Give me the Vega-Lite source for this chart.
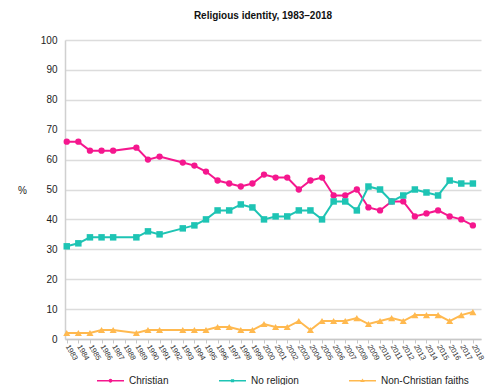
{
  "$schema": "https://vega.github.io/schema/vega-lite/v6.json",
  "width": 416,
  "height": 299,
  "autosize": "none",
  "padding": {"left": 65, "top": 40, "right": 11, "bottom": 46},
  "title": {
    "text": "Religious identity, 1983–2018",
    "font": "Liberation Sans",
    "fontSize": 10,
    "fontWeight": "bold",
    "color": "#111",
    "anchor": "middle",
    "dx": -10,
    "offset": 14
  },
  "config": {
    "view": {"stroke": null},
    "font": "Liberation Sans"
  },
  "data": {
    "values": [
      {"year": 1983, "Christian": 66, "No religion": 31, "Non-Christian faiths": 2},
      {"year": 1984, "Christian": 66, "No religion": 32, "Non-Christian faiths": 2},
      {"year": 1985, "Christian": 63, "No religion": 34, "Non-Christian faiths": 2},
      {"year": 1986, "Christian": 63, "No religion": 34, "Non-Christian faiths": 3},
      {"year": 1987, "Christian": 63, "No religion": 34, "Non-Christian faiths": 3},
      {"year": 1989, "Christian": 64, "No religion": 34, "Non-Christian faiths": 2},
      {"year": 1990, "Christian": 60, "No religion": 36, "Non-Christian faiths": 3},
      {"year": 1991, "Christian": 61, "No religion": 35, "Non-Christian faiths": 3},
      {"year": 1993, "Christian": 59, "No religion": 37, "Non-Christian faiths": 3},
      {"year": 1994, "Christian": 58, "No religion": 38, "Non-Christian faiths": 3},
      {"year": 1995, "Christian": 56, "No religion": 40, "Non-Christian faiths": 3},
      {"year": 1996, "Christian": 53, "No religion": 43, "Non-Christian faiths": 4},
      {"year": 1997, "Christian": 52, "No religion": 43, "Non-Christian faiths": 4},
      {"year": 1998, "Christian": 51, "No religion": 45, "Non-Christian faiths": 3},
      {"year": 1999, "Christian": 52, "No religion": 44, "Non-Christian faiths": 3},
      {"year": 2000, "Christian": 55, "No religion": 40, "Non-Christian faiths": 5},
      {"year": 2001, "Christian": 54, "No religion": 41, "Non-Christian faiths": 4},
      {"year": 2002, "Christian": 54, "No religion": 41, "Non-Christian faiths": 4},
      {"year": 2003, "Christian": 50, "No religion": 43, "Non-Christian faiths": 6},
      {"year": 2004, "Christian": 53, "No religion": 43, "Non-Christian faiths": 3},
      {"year": 2005, "Christian": 54, "No religion": 40, "Non-Christian faiths": 6},
      {"year": 2006, "Christian": 48, "No religion": 46, "Non-Christian faiths": 6},
      {"year": 2007, "Christian": 48, "No religion": 46, "Non-Christian faiths": 6},
      {"year": 2008, "Christian": 50, "No religion": 43, "Non-Christian faiths": 7},
      {"year": 2009, "Christian": 44, "No religion": 51, "Non-Christian faiths": 5},
      {"year": 2010, "Christian": 43, "No religion": 50, "Non-Christian faiths": 6},
      {"year": 2011, "Christian": 46, "No religion": 46, "Non-Christian faiths": 7},
      {"year": 2012, "Christian": 46, "No religion": 48, "Non-Christian faiths": 6},
      {"year": 2013, "Christian": 41, "No religion": 50, "Non-Christian faiths": 8},
      {"year": 2014, "Christian": 42, "No religion": 49, "Non-Christian faiths": 8},
      {"year": 2015, "Christian": 43, "No religion": 48, "Non-Christian faiths": 8},
      {"year": 2016, "Christian": 41, "No religion": 53, "Non-Christian faiths": 6},
      {"year": 2017, "Christian": 40, "No religion": 52, "Non-Christian faiths": 8},
      {"year": 2018, "Christian": 38, "No religion": 52, "Non-Christian faiths": 9}
    ]
  },
  "transform": [
    {"fold": ["Christian", "No religion", "Non-Christian faiths"], "as": ["group", "share"]}
  ],
  "encoding": {
    "x": {
      "field": "year",
      "type": "quantitative",
      "scale": {"domain": [1982.85, 2018.7], "nice": false, "zero": false},
      "axis": {
        "title": null,
        "values": [1983,1984,1985,1986,1987,1988,1989,1990,1991,1992,1993,1994,1995,1996,1997,1998,1999,2000,2001,2002,2003,2004,2005,2006,2007,2008,2009,2010,2011,2012,2013,2014,2015,2016,2017,2018],
        "format": "d",
        "grid": false,
        "labelAngle": 60,
        "labelAlign": "left",
        "labelBaseline": "middle",
        "labelFontSize": 7.5,
        "labelColor": "#333",
        "labelPadding": 2,
        "labelOverlap": false,
        "labelFlush": false,
        "ticks": true,
        "tickSize": 4,
        "tickColor": "#c8c8c8",
        "domainColor": "#c8c8c8",
        "domainWidth": 1.5
      }
    },
    "y": {
      "field": "share",
      "type": "quantitative",
      "scale": {"domain": [0, 100], "nice": false},
      "axis": {
        "title": "%",
        "titleAngle": 0,
        "titleX": -43,
        "titleY": 150,
        "titleAlign": "center",
        "titleBaseline": "middle",
        "titleFontWeight": "normal",
        "titleFontSize": 10,
        "titleColor": "#222",
        "values": [0, 10, 20, 30, 40, 50, 60, 70, 80, 90, 100],
        "grid": true,
        "gridColor": "#dcdcdc",
        "gridWidth": 1.5,
        "ticks": false,
        "domain": true,
        "domainColor": "#d0d0d0",
        "domainWidth": 1.5,
        "labelFontSize": 10,
        "labelColor": "#222",
        "labelPadding": 8
      }
    },
    "color": {
      "field": "group",
      "type": "nominal",
      "scale": {
        "domain": ["Christian", "No religion", "Non-Christian faiths"],
        "range": ["#f5178e", "#1ec4b4", "#ffb94f"]
      },
      "legend": {
        "title": null,
        "orient": "none",
        "direction": "horizontal",
        "legendX": 32,
        "legendY": 327,
        "symbolSize": 729,
        "symbolStrokeWidth": 0,
        "labelOffset": 5,
        "columnPadding": 50,
        "labelFontSize": 10,
        "labelColor": "#222"
      }
    }
  },
  "layer": [
    {
      "mark": {"type": "line", "strokeWidth": 2},
      "encoding": {"detail": {"field": "group"}}
    },
    {
      "transform": [{"filter": {"field": "group", "equal": "Christian"}}],
      "mark": {"type": "point", "shape": "circle", "filled": true, "size": 40, "opacity": 1}
    },
    {
      "transform": [{"filter": {"field": "group", "equal": "No religion"}}],
      "mark": {"type": "point", "shape": "square", "filled": true, "size": 42, "opacity": 1}
    },
    {
      "transform": [{"filter": {"field": "group", "equal": "Non-Christian faiths"}}],
      "mark": {"type": "point", "shape": "triangle-up", "filled": true, "size": 50, "opacity": 1}
    },
    {
      "mark": {"type": "point", "filled": true, "size": 0, "opacity": 1},
      "encoding": {
        "shape": {
          "field": "group",
          "type": "nominal",
          "scale": {
            "domain": ["Christian", "No religion", "Non-Christian faiths"],
            "range": [
              "M-1,-0.055H1V0.055H-1ZM-0.14,0A0.14,0.14,0,1,1,0.14,0A0.14,0.14,0,1,1,-0.14,0Z",
              "M-1,-0.055H1V0.055H-1ZM-0.12,-0.12H0.12V0.12H-0.12Z",
              "M-1,-0.055H1V0.055H-1ZM0,-0.17L0.16,0.1H-0.16Z"
            ]
          },
          "legend": {
            "title": null,
            "orient": "none",
            "direction": "horizontal",
            "legendX": 32,
            "legendY": 327,
            "symbolSize": 729,
            "symbolStrokeWidth": 0,
            "labelOffset": 5,
            "columnPadding": 50,
            "labelFontSize": 10,
            "labelColor": "#222"
          }
        }
      }
    }
  ]
}
